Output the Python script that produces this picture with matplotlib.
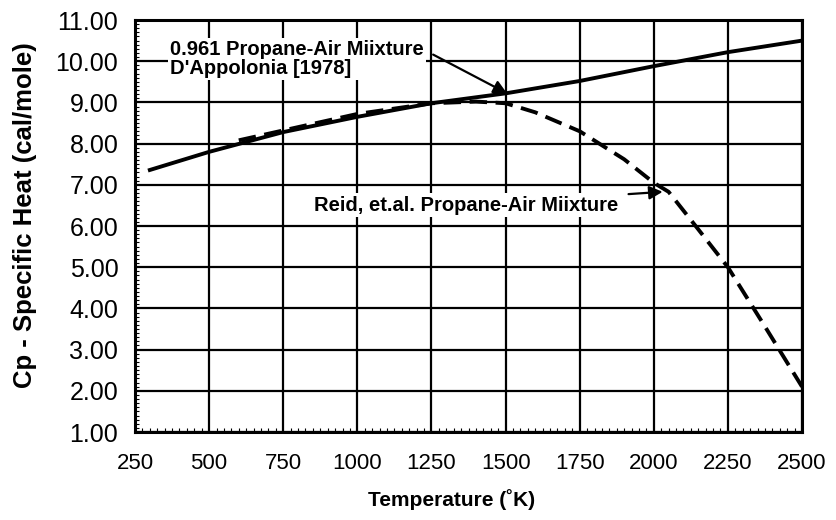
import numpy as np
import matplotlib
matplotlib.use("Agg")
import matplotlib.pyplot as plt
from matplotlib.ticker import MultipleLocator

plt.rcParams['font.family'] = ['Liberation Sans', 'DejaVu Sans']

# D'Appolonia [1978] fit, 0.961 propane-air mixture
temp_dapp = [300, 500, 750, 1000, 1250, 1500, 1750, 2000, 2250, 2500]
cp_dapp = [7.36, 7.80, 8.28, 8.65, 8.98, 9.22, 9.52, 9.88, 10.22, 10.50]

# Reid et al. propane-air mixture
temp_reid = [600, 750, 1000, 1250, 1400, 1500, 1600, 1750, 1900, 2000, 2050, 2150, 2250, 2375, 2500]
cp_reid = [8.08, 8.32, 8.72, 8.98, 9.02, 8.98, 8.76, 8.30, 7.62, 7.05, 6.83, 5.92, 5.00, 3.56, 2.10]

x_ticks = [250, 500, 750, 1000, 1250, 1500, 1750, 2000, 2250, 2500]
y_ticks = [1, 2, 3, 4, 5, 6, 7, 8, 9, 10, 11]

fig = plt.figure(figsize=(8.37, 5.2), dpi=100)
ax = fig.add_axes([0.1613, 0.1692, 0.7969, 0.7923])

ax.plot(temp_dapp, cp_dapp, color='black', lw=2.8, zorder=4)
ax.plot(temp_reid, cp_reid, color='black', lw=2.8, ls=(0, (4.5, 2.2)), zorder=4)

ax.set_xlim(250, 2500)
ax.set_ylim(1, 11)
ax.set_xticks(x_ticks)
ax.set_yticks(y_ticks)
ax.set_yticklabels(['%.2f' % v for v in y_ticks])
ax.xaxis.set_minor_locator(MultipleLocator(25))
ax.yaxis.set_minor_locator(MultipleLocator(0.1))

ax.grid(True, which='major', color='black', lw=1.6)
ax.tick_params(which='major', length=0)
ax.tick_params(axis='y', which='major', labelsize=18, pad=12)
ax.tick_params(axis='x', which='major', labelsize=16, pad=15)
ax.tick_params(which='minor', direction='in', length=3, width=0.8, color='black')
for s in ax.spines.values():
    s.set_linewidth(2.2)

ax.set_xlabel('Temperature (˚K)', fontsize=15, fontweight='bold')
ax.set_ylabel('Cp - Specific Heat (cal/mole)', fontsize=18.5, fontweight='bold')
ax.xaxis.set_label_coords(0.475, -0.138)
ax.yaxis.set_label_coords(-0.147, 0.527)

box = dict(facecolor='white', edgecolor='none', pad=1.5)
ax.annotate("0.961 Propane-Air Miixture\nD'Appolonia [1978]",
            xy=(1505, 9.22), xytext=(368, 10.05),
            fontsize=14.5, fontweight='bold', ha='left', va='center',
            linespacing=1.0, bbox=box, zorder=5,
            arrowprops=dict(arrowstyle='-|>', color='black', lw=1.6,
                            mutation_scale=20, shrinkA=6, shrinkB=0,
                            relpos=(1.0, 0.75)))
ax.annotate("Reid, et.al. Propane-Air Miixture",
            xy=(2030, 6.83), xytext=(1880, 6.51),
            fontsize=14.5, fontweight='bold', ha='right', va='center',
            bbox=box, zorder=5,
            arrowprops=dict(arrowstyle='-|>', color='black', lw=1.6,
                            mutation_scale=20, shrinkA=6, shrinkB=0))

plt.savefig('out.png', dpi=100)
